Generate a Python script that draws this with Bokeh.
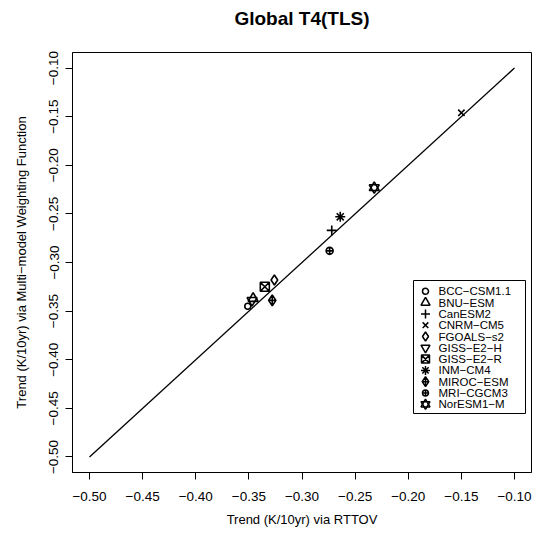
from bokeh.plotting import figure
from bokeh.models import Range1d, FixedTicker, Title
from bokeh.core.properties import value
from bokeh.embed import file_html
from bokeh.resources import INLINE

# ---------------- data ----------------
title_text = "Global T4(TLS)"
x_label = "Trend (K/10yr) via RTTOV"
y_label = "Trend (K/10yr) via Multi\u2212model Weighting Function"

models = ["BCC\u2212CSM1.1", "BNU\u2212ESM", "CanESM2", "CNRM\u2212CM5", "FGOALS\u2212s2",
          "GISS\u2212E2\u2212H", "GISS\u2212E2\u2212R", "INM\u2212CM4", "MIROC\u2212ESM",
          "MRI\u2212CGCM3", "NorESM1\u2212M"]
x_rttov = [-0.351, -0.346, -0.272, -0.150, -0.326, -0.347, -0.335, -0.264, -0.328, -0.274, -0.232]
y_mmwf = [-0.345, -0.337, -0.267, -0.146, -0.318, -0.339, -0.325, -0.253, -0.339, -0.288, -0.223]

tick_values = [-0.50, -0.45, -0.40, -0.35, -0.30, -0.25, -0.20, -0.15, -0.10]
tick_labels = ["\u22120.50", "\u22120.45", "\u22120.40", "\u22120.35", "\u22120.30",
               "\u22120.25", "\u22120.20", "\u22120.15", "\u22120.10"]
line_x = [-0.50, -0.10]
line_y = [-0.50, -0.10]
axis_min, axis_max = -0.516, -0.084

# ---------------- styles ----------------
markers = [["circle"], ["triangle"], ["cross"], ["x"], ["diamond"], ["inverted_triangle"],
           ["square_x"], ["asterisk"], ["diamond_cross"], ["circle_cross"],
           ["triangle", "inverted_triangle"]]
sizes = [6, 10, 10, 9, 10, 10, 9, 10, 11, 7, 10]
leg_sizes = [6, 9, 9, 8, 9, 9, 8, 9, 10, 6, 9]
FONT = "Liberation Sans"

W, H = 532, 529
BL, BR, BT, BB = 72, 1, 52, 57
FW = W - BL - BR
FH = H - BT - BB

p = figure(width=W, height=H, x_range=Range1d(axis_min, axis_max),
           y_range=Range1d(axis_min, axis_max), output_backend="svg",
           toolbar_location=None, min_border_left=BL, min_border_right=BR,
           min_border_top=BT, min_border_bottom=BB)
p.extra_x_ranges = {"px": Range1d(0, FW)}
p.extra_y_ranges = {"py": Range1d(0, FH)}
p.grid.visible = False
p.background_fill_color = "white"
p.border_fill_color = "white"
p.outline_line_color = "black"
p.outline_line_width = 1

p.title.text = title_text
p.title.align = "center"
p.title.text_font = FONT
p.title.text_font_size = "19px"
p.title.text_font_style = "bold"
p.title.text_color = "black"
# invisible spacer between the frame and the title
p.add_layout(Title(text=" ", text_font_size="7px", text_color="white"), "above")

for ax in (p.xaxis[0], p.yaxis[0]):
    ax.ticker = FixedTicker(ticks=tick_values)
    ax.major_label_overrides = dict(zip(tick_values, tick_labels))
    ax.major_tick_out = 7
    ax.major_tick_in = 0
    ax.minor_tick_out = 0
    ax.minor_tick_in = 0
    ax.major_tick_line_color = "black"
    ax.axis_line_color = "black"
    ax.major_label_text_font = FONT
    ax.major_label_text_font_size = "13.5px"
    ax.major_label_text_color = "black"
    ax.axis_label_text_font = FONT
    ax.axis_label_text_font_size = "13px"
    ax.axis_label_text_font_style = "normal"
    ax.axis_label_text_color = "black"

p.xaxis.axis_label = x_label
p.yaxis.axis_label = y_label
p.xaxis.major_label_standoff = 12
p.xaxis.axis_label_standoff = 8
p.yaxis.major_label_standoff = 7
p.yaxis.axis_label_standoff = 18
p.yaxis.major_label_orientation = "vertical"

p.line(line_x, line_y, line_color="black", line_width=1.3)

for i, name in enumerate(models):
    for m in markers[i]:
        p.scatter([x_rttov[i]], [y_mmwf[i]], marker=m, size=sizes[i],
                  line_color="black", line_width=1.6, fill_color=None)

# ---------------- legend (frame pixel coordinates) ----------------
LEG_W, LEG_RIGHT_GAP = 112, 6
LEG_TOP, LEG_BOTTOM = 192, 59
ROW_FIRST, ROW_PITCH = 10.8, 11.3
SYM_DX, TXT_DX = 12, 25
leg_right = FW - LEG_RIGHT_GAP
leg_left = leg_right - LEG_W
p.quad(left=[leg_left], right=[leg_right], top=[LEG_TOP], bottom=[LEG_BOTTOM],
       x_range_name="px", y_range_name="py",
       fill_color="white", line_color="black", line_width=1)
row_y = [LEG_TOP - ROW_FIRST - i * ROW_PITCH for i in range(len(models))]
for i in range(len(models)):
    for m in markers[i]:
        p.scatter([leg_left + SYM_DX], [row_y[i]], marker=m, size=leg_sizes[i],
                  x_range_name="px", y_range_name="py",
                  line_color="black", line_width=1.5, fill_color=None)
p.text(x=[leg_left + TXT_DX] * len(models), y=row_y, text=models,
       x_range_name="px", y_range_name="py",
       text_font=value(FONT), text_font_size=value("11.5px"),
       text_baseline="middle", text_align="left", text_color="black")

open("out.html", "w").write(file_html(p, INLINE))
